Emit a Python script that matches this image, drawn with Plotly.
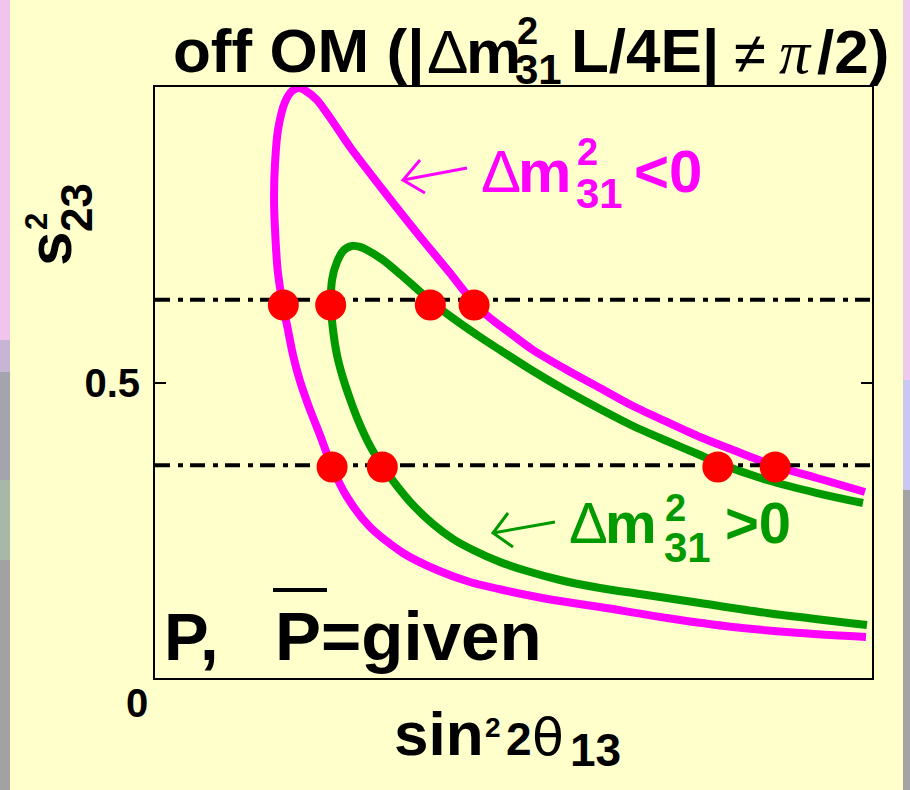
import plotly.graph_objects as go

# ---------------- data ----------------
# Delta m^2_31 < 0 (magenta) curve, traced from lower-right end, around the loop, to upper-right end
neg_x = [0.09916, 0.08996, 0.08061, 0.07141, 0.06206, 0.05649, 0.05328, 0.04854, 0.04393, 0.03933,
         0.03459, 0.02999, 0.02678, 0.02469, 0.02301, 0.02148, 0.02022, 0.01925, 0.01855, 0.01785,
         0.01715, 0.01674, 0.01660, 0.01674, 0.01715, 0.01813, 0.01911, 0.02008, 0.02106, 0.02259,
         0.02483, 0.02720, 0.03180, 0.03654, 0.04114, 0.04324, 0.04533, 0.04742, 0.04951, 0.05272,
         0.05746, 0.06206, 0.06667, 0.07141, 0.07601, 0.08061, 0.08647, 0.09233, 0.09902]
neg_y = [0.0694, 0.0761, 0.0863, 0.1015, 0.1201, 0.1303, 0.1371, 0.1489, 0.1624, 0.1827,
         0.2115, 0.2555, 0.3063, 0.3570, 0.4112, 0.4585, 0.5025, 0.5465, 0.5888, 0.6311,
         0.6853, 0.7580, 0.8139, 0.8714, 0.9272, 0.9746, 0.9932, 0.9983, 0.9932, 0.9780,
         0.9408, 0.8985, 0.8257, 0.7530, 0.6853, 0.6531, 0.6244, 0.6024, 0.5838, 0.5550,
         0.5212, 0.4907, 0.4602, 0.4332, 0.4078, 0.3858, 0.3587, 0.3384, 0.3147]

# Delta m^2_31 > 0 (green) curve
pos_x = [0.09930, 0.08536, 0.07601, 0.06764, 0.06206, 0.05649, 0.05188, 0.04812, 0.04435, 0.04156,
         0.03877, 0.03598, 0.03375, 0.03180, 0.02999, 0.02831, 0.02720, 0.02622, 0.02538, 0.02483,
         0.02455, 0.02469, 0.02538, 0.02636, 0.02748, 0.02859, 0.02957, 0.03180, 0.03417, 0.03654,
         0.03877, 0.04114, 0.04533, 0.04812, 0.05272, 0.05746, 0.06206, 0.06667, 0.07141, 0.07601,
         0.07852, 0.08536, 0.09233, 0.09874]
pos_y = [0.0897, 0.1100, 0.1269, 0.1421, 0.1523, 0.1658, 0.1810, 0.1963, 0.2166, 0.2352,
         0.2606, 0.2927, 0.3249, 0.3570, 0.3926, 0.4365, 0.4721, 0.5076, 0.5465, 0.5888,
         0.6311, 0.6734, 0.7039, 0.7242, 0.7310, 0.7293, 0.7242, 0.7073, 0.6836, 0.6582,
         0.6345, 0.6125, 0.5770, 0.5550, 0.5195, 0.4856, 0.4552, 0.4264, 0.4010, 0.3773,
         0.3638, 0.3350, 0.3130, 0.2961]

# given s^2_23 levels (dash-dot lines)
level_y = [0.64, 0.36]
x_span = [0.0, 0.1]

# intersection points (red dots)
dot_x = [0.0179, 0.0245, 0.0384, 0.0445, 0.0247, 0.0317, 0.0785, 0.0865]
dot_y = [0.631, 0.631, 0.631, 0.631, 0.357, 0.357, 0.357, 0.357]

y_ticks = [0.5]
y_tick_labels = ["0.5"]

# ---------------- styling helpers ----------------
W, H = 910, 790
L, R, T, B = 155, 872, 87, 678
BG = "#FFFFCC"
MAG = "#FF00FF"
GRN = "#009900"
SANS = "Liberation Sans, Arial, sans-serif"
SERIF = "Liberation Serif, Times New Roman, serif"
DEJA = "DejaVu Sans, sans-serif"


def PX(px):
    return (px - L) / (R - L)


def PY(py):
    return (B - py) / (B - T)


annotations = []


def txt(text, px, base, size, color="black", bold=True, family=SANS, anchor="left", italic=False):
    # base: pixel baseline; convert to box centre
    cy = base - 0.3465 * size
    t = text
    if bold:
        t = "<b>" + t + "</b>"
    if italic:
        t = "<i>" + t + "</i>"
    annotations.append(dict(text=t, x=PX(px), y=PY(cy), xref="paper", yref="paper",
                            xanchor=anchor, yanchor="middle", showarrow=False,
                            borderpad=0,
                            font=dict(size=size, color=color, family=family)))


def rtxt(text, cx, cy, size, bold=True, family=SANS):
    t = "<b>" + text + "</b>" if bold else text
    annotations.append(dict(text=t, x=PX(cx), y=PY(cy), xref="paper", yref="paper",
                            xanchor="center", yanchor="middle", showarrow=False,
                            textangle=-90, borderpad=0,
                            font=dict(size=size, color="black", family=family)))


# title
txt("off OM (|", 172, 73, 62)
txt("Δ", 426, 73, 62, bold=False)
txt("m", 465, 73, 62)
txt("2", 516, 44, 38)
txt("31", 514, 84, 42)
txt("L/4E|", 570, 73, 62)
txt("≠", 750, 73, 58, bold=False, anchor="center")
txt("π", 795, 73, 62, bold=False, family=SERIF, anchor="center", italic=True)
txt("/2)", 816, 73, 62)

# magenta label
txt("Δ", 480, 192, 60, color=MAG, bold=False)
txt("m", 517, 192, 60, color=MAG)
txt("2", 576, 165, 38, color=MAG)
txt("31", 575, 208, 42, color=MAG)
txt("<0", 633, 192, 60, color=MAG)

# green label
txt("Δ", 568, 543, 58, color=GRN, bold=False)
txt("m", 604, 543, 58, color=GRN)
txt("2", 664, 521, 38, color=GRN)
txt("31", 663, 562, 42, color=GRN)
txt("&gt;0", 724, 543, 58, color=GRN)

# P, P-bar = given
txt("P,", 163, 660, 67)
txt("P=given", 274, 660, 69)

# x-axis title
txt("sin", 393, 755, 62)
txt("2", 484, 737, 28)
txt("2", 505, 755, 46)
txt("θ", 531, 755, 52, bold=False, family=DEJA)
txt("13", 569, 766, 46)

# y-axis title (rotated)
rtxt("s", 49, 249, 62)
rtxt("2", 36, 222, 31)
rtxt("23", 76, 208, 44)

# origin label
txt("0", 137, 717, 40, anchor="center")

# ---------------- shapes ----------------
shapes = []


def rect(x0, y0, x1, y1, color):
    shapes.append(dict(type="rect", xref="paper", yref="paper",
                       x0=PX(x0), x1=PX(x1), y0=PY(y0), y1=PY(y1),
                       fillcolor=color, line=dict(width=0), layer="above"))


# slide edges
rect(0, 0, 10, 340, "#F0C4EC")
rect(0, 340, 10, 372, "#C8B4D4")
rect(0, 372, 10, 480, "#A4A4AC")
rect(0, 480, 10, 560, "#A8B8A8")
rect(0, 560, 10, 790, "#A2A2A2")
rect(903, 0, 910, 380, "#F0C8EC")
rect(903, 380, 910, 490, "#C8C8F0")
rect(903, 490, 910, 790, "#A4A4A4")


def path(points, color, width):
    d = ""
    for i, (a, b) in enumerate(points):
        d += ("M" if i == 0 else "L") + f"{PX(a):.5f},{PY(b):.5f} "
    shapes.append(dict(type="path", xref="paper", yref="paper", path=d,
                       line=dict(color=color, width=width), layer="above"))


# arrows
path([(467, 168), (403, 180)], MAG, 3)
path([(420, 160), (403, 180), (425, 193)], MAG, 3)
path([(555, 522), (493, 533)], GRN, 3)
path([(508, 513), (493, 533), (513, 547)], GRN, 3)
# overline on second P
path([(273, 590), (327, 590)], "black", 4)

# ---------------- figure ----------------
fig = go.Figure()
fig.add_trace(go.Scatter(x=neg_x, y=neg_y, mode="lines",
                         line=dict(color=MAG, width=8, shape="spline", smoothing=0.8),
                         hoverinfo="skip"))
fig.add_trace(go.Scatter(x=pos_x, y=pos_y, mode="lines",
                         line=dict(color=GRN, width=8, shape="spline", smoothing=0.8),
                         hoverinfo="skip"))
for yv in level_y:
    fig.add_trace(go.Scatter(x=x_span, y=[yv, yv], mode="lines",
                             line=dict(color="black", width=4, dash="15px,8px,5px,7px"),
                             hoverinfo="skip"))
fig.add_trace(go.Scatter(x=dot_x, y=dot_y, mode="markers",
                         marker=dict(color="#FF0000", size=31, line=dict(width=0)),
                         hoverinfo="skip"))

fig.update_layout(
    width=W, height=H,
    margin=dict(l=L, r=W - R, t=T, b=H - B, pad=0),
    paper_bgcolor=BG, plot_bgcolor=BG,
    showlegend=False,
    annotations=annotations,
    shapes=shapes,
)
fig.update_xaxes(range=x_span, showgrid=False, zeroline=False, showline=True,
                 linecolor="black", linewidth=2, mirror=True,
                 ticks="inside", tickvals=x_span, ticklen=10, tickwidth=2,
                 tickcolor="black", showticklabels=False)
fig.update_yaxes(range=[0, 1], showgrid=False, zeroline=False, showline=True,
                 linecolor="black", linewidth=2, mirror="ticks",
                 ticks="inside", tickvals=y_ticks, ticktext=y_tick_labels,
                 ticklen=11, tickwidth=2, tickcolor="black",
                 ticklabelstandoff=5,
                 tickfont=dict(size=40, color="black", family=SANS, weight="bold"))

fig.write_html(
    "out.html",
    config={"displayModeBar": False},
    post_script=("document.documentElement.style.margin='0';"
                 "document.body.style.margin='0';document.body.style.padding='0';"
                 "document.body.style.background='#FFFFCC';"
                 "document.body.style.overflow='hidden';"),
)
